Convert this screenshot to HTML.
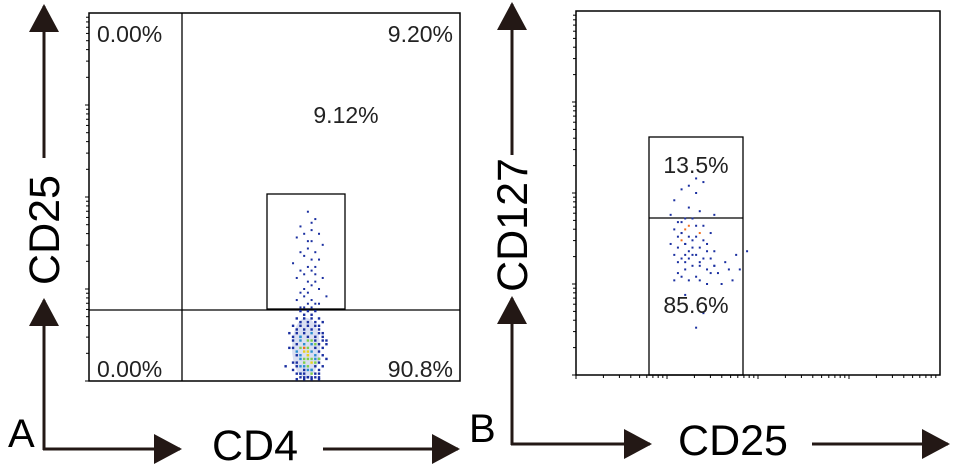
<!DOCTYPE html>
<html><head><meta charset="utf-8"><style>
html,body{margin:0;padding:0;background:#fff;}
svg{display:block;font-family:"Liberation Sans",Arial,sans-serif;}
</style></head><body>
<svg id="fig" width="957" height="469" viewBox="0 0 957 469">
<defs>
<marker id="ah" markerWidth="28" markerHeight="30" refX="26" refY="15" orient="auto" markerUnits="userSpaceOnUse" viewBox="0 0 28 30"><path d="M0,0 L28,15 L0,30 Z" fill="#231815"/></marker>
</defs>
<g id="panelA"></g>
<g id="panelB"></g>
</svg>
<script>
// Panel A data (percent of axis range)
const aGateX=[59,61,57,60,62,58,56,60,63,59,57,61,58,60,62,55,59,61,57,60,58,63,56,59,61,60,58,62,57,59,64,58,60,56,61,59,62,57,60,58,60,59,61];
const aGateY=[46,44,42,41,40,40,39,38,37,36,35,35,34,33,33,32,31,31,30,30,29,28,28,27,27,26,25,25,24,24,23,23,22,22,21,21,21,20,20,20,43,38,29];
const aLowX=[57,58,59,60,61,62,56,57,58,59,60,61,62,63,55,56,57,58,59,60,61,62,63,54,55,56,57,58,59,60,61,62,63,64,55,56,57,58,59,60,61,62,63,64,54,55,56,57,58,59,60,61,62,63,56,57,58,59,60,61,62,63,55,56,57,58,59,60,61,62,64,53,56,57,58,59,60,61,62,63,55,56,57,58,59,60,61,62,57,58,59,60,61,62,56,58,60,62,59,61,57,58,60,59,61,58,60,62,57,59];
const aLowY=[19,18,19,18,19,17,17,16,17,16,17,16,15,16,15,14,15,14,15,14,15,14,13,13,12,13,12,13,12,13,12,13,12,11,11,10,11,10,11,10,11,10,11,10,9,9,8,9,8,9,8,9,8,9,7,7,6,7,6,7,6,7,5,5,6,5,6,5,6,5,6,4,4,4,3,4,3,4,3,4,3,2,2,2,3,2,2,2,1,1,1,1,1,1,0.5,0.5,0.5,0.5,8,10,12,9,11,7,5,4,3,6,2,1];
const aLowLevel=[0,0,0,0,0,0,0,0,0,0,0,0,0,0,0,0,0,0,0,0,0,0,0,0,0,0,1,0,0,1,0,0,0,0,0,0,1,1,2,1,0,0,0,0,0,0,1,2,3,2,1,0,0,0,0,1,2,3,2,1,0,0,0,0,1,2,2,3,1,0,0,0,0,1,0,2,1,0,0,0,0,0,1,0,1,2,0,0,0,0,0,0,0,0,0,0,0,0,3,2,1,4,2,3,2,1,1,2,0,0];
const aLabels=["0.00%","9.20%","9.12%","0.00%","90.8%"];
// Panel B data
const bX=[33,35,31,29,33,27,31,26,34,38,30,32,28,29,31,33,35,30,27,29,34,37,28,31,33,29,32,35,30,26,28,32,34,31,36,38,27,30,33,29,31,35,37,28,30,32,34,38,41,44,30,28,36,39,42,33,29,31,34,27,36,40,43,47,30,35,33,38,45,32,37,34,30,36,29];
const bY=[54,53,52,51,50,48,46,44,45,44,43,43,42,42,41,41,41,40,40,39,39,39,38,38,38,37,37,37,36,36,35,35,35,34,34,34,33,33,33,32,32,32,32,31,31,30,30,30,31,33,29,28,29,28,29,27,27,26,26,26,25,25,26,34,22,17,13,30,29,33,28,31,36,36,39];
const bLevel=[0,0,0,0,0,0,0,0,0,0,0,0,0,0,4,0,0,4,0,0,4,0,0,0,0,4,0,0,0,0,0,0,0,0,0,0,0,0,0,0,0,0,0,0,0,0,0,0,0,0,0,0,0,0,0,0,0,0,0,0,0,0,0,0,0,0,0,0,0,0,0,0,0,0,0];
const bLabels=["13.5%","85.6%"];
const levelColors=["#1a2fa0","#2a8fd0","#7fd04a","#e8d020","#f07020"];

const NS="http://www.w3.org/2000/svg";
function mk(parent,tag,attrs,txt){const e=document.createElementNS(NS,tag);for(const k in attrs)e.setAttribute(k,attrs[k]);if(txt!==undefined)e.textContent=txt;parent.appendChild(e);return e;}
const axA={x0:89,x1:460,y0:381,y1:13};
const axB={x0:576,x1:940,y0:375,y1:11};
function sx(ax,v){return ax.x0+(ax.x1-ax.x0)*v/100;}
function sy(ax,v){return ax.y0+(ax.y1-ax.y0)*v/100;}
const INK="#231815";

function arrowsAndTitles(g,vx,topHeadY,topLineEnd,title,titleY,lowHead,hy,hEnd,xtitle,xtitleX,line2a,line2b,letter,letterX){
  let e;
  e=mk(g,'line',{x1:vx,y1:topLineEnd,x2:vx,y2:topHeadY,stroke:INK,'stroke-width':3,'marker-end':'url(#ah)'});
  
  e=mk(g,'line',{x1:vx,y1:hy+1,x2:vx,y2:lowHead,stroke:INK,'stroke-width':3,'marker-end':'url(#ah)'});
  
  e=mk(g,'text',{x:0,y:0,transform:`translate(${vx+15},${titleY}) rotate(-90)`,'text-anchor':'middle','font-size':43,fill:'#000'},title);
  
  e=mk(g,'line',{x1:vx-1,y1:hy,x2:hEnd,y2:hy,stroke:INK,'stroke-width':3,'marker-end':'url(#ah)'});
  
  e=mk(g,'text',{x:xtitleX,y:hy+11,'text-anchor':'middle','font-size':43,fill:'#000'},xtitle);
  
  e=mk(g,'line',{x1:line2a,y1:hy,x2:line2b,y2:hy,stroke:INK,'stroke-width':3,'marker-end':'url(#ah)'});
  
  e=mk(g,'text',{x:letterX,y:hy-2,'font-size':40,fill:'#000'},letter);
  
}
function yTicks(g,ax){
  const dec=[0,0.301,0.477,0.602,0.699,0.778,0.845,0.903,0.954];
  for(let d=0;d<4;d++)for(const f of dec){const y=ax.y0-(ax.y0-ax.y1)*(d+f)/4;const e=mk(g,'line',{x1:ax.x0-(f===0?4:3),y1:y,x2:ax.x0,y2:y,stroke:'#000','stroke-width':1});}
}
function xTicks(g,ax){
  const dec=[0,0.301,0.477,0.602,0.699,0.778,0.845,0.903,0.954];
  for(let d=0;d<4;d++)for(const f of dec){const x=ax.x0+(ax.x1-ax.x0)*(d+f)/4;const e=mk(g,'line',{x1:x,y1:ax.y0,x2:x,y2:ax.y0+(f===0?4:3),stroke:'#000','stroke-width':1});}
}

// Panel A
const gA=document.getElementById('panelA');
arrowsAndTitles(gA,44,6,158,'CD25',230,300,449,180,'CD4',255,323,458,'A',8);
yTicks(gA,axA);
let e=mk(gA,'rect',{x:axA.x0,y:axA.y1,width:axA.x1-axA.x0,height:axA.y0-axA.y1,fill:'none',stroke:'#000','stroke-width':1.5});

e=mk(gA,'line',{x1:182,y1:axA.y1,x2:182,y2:axA.y0,stroke:'#000','stroke-width':1.3});

e=mk(gA,'line',{x1:axA.x0,y1:310,x2:axA.x1,y2:310,stroke:'#000','stroke-width':1.3});

e=mk(gA,'rect',{x:267,y:194,width:78,height:115,fill:'none',stroke:'#000','stroke-width':1.3});

e=mk(gA,'ellipse',{cx:sx(axA,58.5),cy:sy(axA,9),rx:14,ry:30,fill:'#3050b8',opacity:0.18});

aGateX.forEach((v,i)=>{const d=mk(gA,'rect',{x:sx(axA,v)-1,y:sy(axA,aGateY[i])-1,width:2,height:2,fill:levelColors[0]});});
aLowX.forEach((v,i)=>{const d=mk(gA,'rect',{x:sx(axA,v)-1.2,y:sy(axA,aLowY[i])-1.2,width:2.4,height:2.4,fill:levelColors[aLowLevel[i]]});});
const aPos=[[97,42,'start'],[453,42,'end'],[346,123,'middle'],[97,377,'start'],[453,377,'end']];
aLabels.forEach((t,i)=>{const d=mk(gA,'text',{x:aPos[i][0],y:aPos[i][1],'text-anchor':aPos[i][2],'font-size':23,fill:'#222'},t);});

// Panel B
const gB=document.getElementById('panelB');
arrowsAndTitles(gB,512,4,155,'CD127',225,298,444,650,'CD25',733,812,948,'B',469);
yTicks(gB,axB);xTicks(gB,axB);
e=mk(gB,'rect',{x:axB.x0,y:axB.y1,width:axB.x1-axB.x0,height:axB.y0-axB.y1,fill:'none',stroke:'#000','stroke-width':1.5});

e=mk(gB,'rect',{x:649,y:137,width:94,height:238,fill:'none',stroke:'#000','stroke-width':1.3});

e=mk(gB,'line',{x1:649,y1:218,x2:743,y2:218,stroke:'#000','stroke-width':1.3});

bX.forEach((v,i)=>{const d=mk(gB,'rect',{x:sx(axB,v)-1,y:sy(axB,bY[i])-1,width:2,height:2,fill:levelColors[bLevel[i]]});});
const bPos=[[696,173],[696,313]];
bLabels.forEach((t,i)=>{const d=mk(gB,'text',{x:bPos[i][0],y:bPos[i][1],'text-anchor':'middle','font-size':23,fill:'#222'},t);});
</script>
</body></html>
